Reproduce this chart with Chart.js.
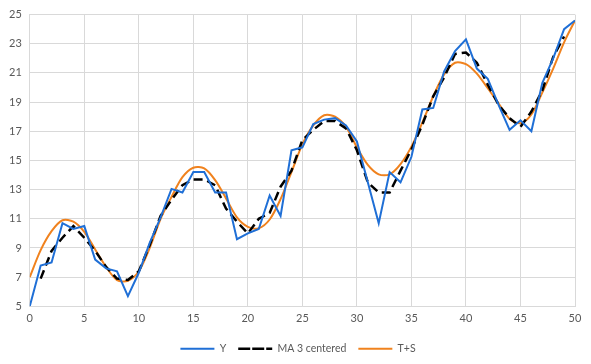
<!DOCTYPE html>
<html>
<head>
<meta charset="utf-8">
<script src="https://cdn.jsdelivr.net/npm/chart.js@4"></script>
<style>
html,body{margin:0;padding:0;background:#fff;}
#wrap{width:591px;height:364px;}
</style>
</head>
<body>
<div id="wrap"><canvas id="c" width="591" height="364"></canvas></div>
<script>
const xValues = [0,1,2,3,4,5,6,7,8,9,10,11,12,13,14,15,16,17,18,19,20,21,22,23,24,25,26,27,28,29,30,31,32,33,34,35,36,37,38,39,40,41,42,43,44,45,46,47,48,49,50];
const yValues = [5.0,7.8,8.0,10.7,10.3,10.5,8.2,7.6,7.4,5.7,7.3,9.35,11.1,13.05,12.8,14.2,14.2,12.8,12.8,9.6,10.0,10.3,12.6,11.2,15.7,15.9,17.5,17.8,17.9,17.4,16.3,13.5,10.7,14.2,13.5,15.25,18.5,18.6,21.1,22.5,23.3,21.3,20.6,18.8,17.1,17.75,17.0,20.3,22.0,24.0,24.6];
const maValues = [null,6.9,8.8,9.7,10.5,9.7,8.8,7.7,6.9,6.8,7.4,9.2,11.2,12.3,13.3,13.7,13.7,13.3,11.7,10.8,10.0,11.0,11.4,13.2,14.3,16.4,17.1,17.7,17.7,17.2,15.7,13.5,12.8,12.8,14.3,15.75,17.45,19.4,20.7,22.3,22.4,21.7,20.2,18.8,17.9,17.3,18.35,19.8,22.1,23.5,null];
const tsValues = [7.0,8.85,10.15,10.9,10.8,10.1,8.9,7.7,6.8,6.75,7.4,9.0,11.0,12.5,13.85,14.5,14.45,13.65,12.4,11.1,10.45,10.35,10.95,12.35,14.2,16.1,17.4,18.1,18.0,17.3,15.9,14.7,14.05,14.05,14.75,15.95,17.6,19.4,20.9,21.7,21.6,20.95,19.95,18.9,17.85,17.55,18.15,19.65,21.3,23.1,24.6];
const seriesNames = ["Y","MA 3 centered","T+S"];
const yTickMin = 5, yTickMax = 25, yTickStep = 2;
const xTickMin = 0, xTickMax = 50, xTickStep = 5;

const toPts = arr => xValues.map((x,i)=>({x:x,y:arr[i]})).filter(p=>p.y!==null);
const fontSpec = {family:'Lato, "Open Sans", sans-serif', size:11};

const legendShift = {
  id:'legendShift',
  afterLayout(chart){
    if (chart.legend){ chart.legend.left += 10; chart.legend.right += 10; }
  }
};

new Chart(document.getElementById('c'), {
  type: 'line',
  data: {
    datasets: [
      {label: seriesNames[0], data: toPts(yValues), borderColor:'#1F6FD6', backgroundColor:'#1F6FD6', borderWidth:2, pointRadius:0, tension:0},
      {label: seriesNames[1], data: toPts(maValues), borderColor:'#000000', backgroundColor:'#000000', borderWidth:2.5, borderDash:[9,5], pointRadius:0, tension:0},
      {label: seriesNames[2], data: toPts(tsValues), borderColor:'#F0821E', backgroundColor:'#F0821E', borderWidth:2, pointRadius:0, tension:0.3}
    ]
  },
  plugins:[legendShift],
  options: {
    responsive:false,
    animation:false,
    layout:{padding:{top:8,right:16,left:1,bottom:0}},
    scales:{
      x:{type:'linear', min:xTickMin, max:xTickMax,
         ticks:{stepSize:xTickStep, color:'#595959', font:fontSpec, padding:6},
         grid:{color:'#D9D9D9', lineWidth:1, drawTicks:false},
         border:{color:'#D9D9D9'}},
      y:{min:yTickMin, max:yTickMax,
         ticks:{stepSize:yTickStep, color:'#595959', font:fontSpec, padding:8},
         grid:{color:'#D9D9D9', lineWidth:1, drawTicks:false},
         border:{color:'#D9D9D9'}}
    },
    plugins:{
      legend:{position:'bottom',
        labels:{boxWidth:34, boxHeight:0, color:'#595959', font:{family:'Lato, "Open Sans", sans-serif', size:10.5}, padding:12}},
      tooltip:{enabled:false}
    }
  }
});
</script>
</body>
</html>
